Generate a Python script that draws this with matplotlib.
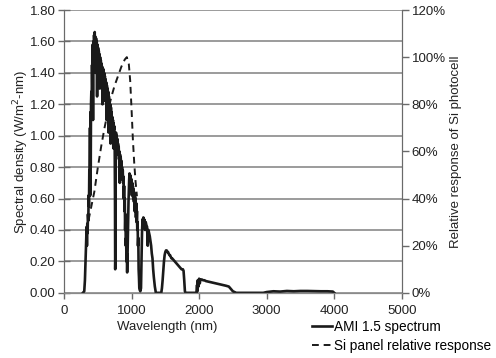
import numpy as np
import matplotlib.pyplot as plt
from matplotlib.ticker import FuncFormatter, MultipleLocator

plt.rcParams['font.family'] = ['Liberation Sans', 'DejaVu Sans']
plt.rcParams['font.size'] = 9

# AM1.5 spectrum (nm, W/m2-nm), 14 points per row
wl_spec = [280, 300, 310, 320, 330, 335, 340, 345, 350, 355, 360, 365, 370, 375,
           380, 385, 388, 392, 396, 400, 405, 410, 415, 420, 425, 430, 435, 440,
           445, 450, 455, 460, 465, 470, 475, 480, 485, 490, 495, 500, 505, 510,
           515, 520, 525, 530, 535, 540, 545, 550, 555, 560, 565, 570, 575, 580,
           585, 590, 595, 600, 605, 610, 615, 620, 625, 630, 635, 640, 645, 650,
           655, 660, 665, 670, 675, 680, 685, 690, 695, 700, 705, 710, 715, 720,
           725, 730, 735, 740, 745, 750, 755, 758, 762, 766, 770, 775, 780, 785,
           790, 795, 800, 805, 810, 815, 820, 825, 830, 835, 840, 845, 850, 855,
           860, 865, 870, 875, 880, 885, 890, 895, 900, 905, 910, 915, 920, 925,
           930, 935, 940, 945, 950, 955, 960, 965, 970, 975, 980, 985, 990, 995,
           1000, 1005, 1010, 1015, 1020, 1025, 1030, 1035, 1040, 1045, 1050, 1055, 1060, 1065,
           1070, 1075, 1080, 1085, 1090, 1095, 1100, 1105, 1110, 1115, 1120, 1130, 1140, 1145,
           1150, 1155, 1160, 1165, 1170, 1175, 1180, 1185, 1190, 1195, 1200, 1210, 1220, 1230,
           1240, 1250, 1260, 1270, 1280, 1290, 1300, 1310, 1320, 1330, 1345, 1360, 1440, 1450,
           1460, 1470, 1480, 1490, 1500, 1510, 1520, 1530, 1540, 1550, 1560, 1570, 1580, 1590,
           1600, 1620, 1640, 1660, 1680, 1700, 1720, 1740, 1760, 1770, 1780, 1790, 1800, 1960,
           1970, 1975, 1980, 1990, 2000, 2010, 2020, 2040, 2060, 2080, 2100, 2150, 2200, 2250,
           2300, 2350, 2400, 2440, 2460, 2480, 2500, 2550, 2800, 2950, 3000, 3100, 3200, 3300,
           3400, 3500, 3600, 3700, 3800, 3900, 3980, 4000]
spec = [0.00, 0.01, 0.08, 0.22, 0.36, 0.42, 0.30, 0.44, 0.38, 0.50, 0.46, 0.62, 0.55, 0.78,
        0.70, 1.05, 0.62, 1.15, 0.80, 1.20, 1.28, 1.22, 1.45, 1.30, 1.58, 1.10, 1.60, 1.48,
        1.64, 1.58, 1.66, 1.52, 1.63, 1.40, 1.62, 1.55, 1.60, 1.25, 1.58, 1.50, 1.56, 1.38,
        1.54, 1.45, 1.52, 1.30, 1.50, 1.42, 1.48, 1.35, 1.46, 1.40, 1.44, 1.20, 1.43, 1.35,
        1.42, 1.28, 1.40, 1.32, 1.38, 1.22, 1.36, 1.30, 1.34, 1.10, 1.32, 1.26, 1.30, 1.20,
        1.28, 1.02, 1.25, 1.18, 1.22, 1.12, 1.20, 0.95, 1.18, 1.10, 1.15, 0.98, 1.12, 1.05,
        1.10, 0.92, 1.08, 1.04, 1.06, 1.00, 0.60, 0.15, 0.25, 0.80, 1.02, 0.95, 1.00, 0.90,
        0.98, 0.92, 0.95, 0.88, 0.93, 0.85, 0.90, 0.70, 0.88, 0.82, 0.86, 0.80, 0.84, 0.78,
        0.80, 0.72, 0.78, 0.70, 0.74, 0.60, 0.68, 0.52, 0.60, 0.40, 0.50, 0.30, 0.35, 0.20,
        0.25, 0.13, 0.22, 0.35, 0.45, 0.58, 0.65, 0.72, 0.76, 0.70, 0.75, 0.66, 0.73, 0.68,
        0.72, 0.62, 0.70, 0.64, 0.68, 0.60, 0.66, 0.58, 0.64, 0.52, 0.62, 0.55, 0.60, 0.48,
        0.57, 0.45, 0.52, 0.40, 0.45, 0.30, 0.35, 0.15, 0.10, 0.03, 0.02, 0.01, 0.03, 0.15,
        0.30, 0.38, 0.44, 0.47, 0.42, 0.48, 0.44, 0.47, 0.43, 0.46, 0.40, 0.45, 0.43, 0.42,
        0.30, 0.40, 0.38, 0.36, 0.33, 0.30, 0.25, 0.22, 0.15, 0.10, 0.04, 0.00, 0.00, 0.03,
        0.08, 0.14, 0.20, 0.24, 0.26, 0.27, 0.27, 0.26, 0.26, 0.25, 0.24, 0.24, 0.23, 0.22,
        0.22, 0.21, 0.20, 0.19, 0.18, 0.17, 0.16, 0.15, 0.15, 0.14, 0.08, 0.01, 0.00, 0.00,
        0.05, 0.01, 0.08, 0.04, 0.09, 0.06, 0.085, 0.085, 0.08, 0.08, 0.075, 0.07, 0.065, 0.06,
        0.055, 0.05, 0.045, 0.04, 0.03, 0.02, 0.01, 0.00, 0.00, 0.00, 0.005, 0.01, 0.008, 0.012,
        0.01, 0.012, 0.012, 0.011, 0.01, 0.01, 0.008, 0.00]

# Si panel relative response (fraction of max)
wl_si = [330, 350, 400, 450, 500, 550, 600, 650, 700, 750, 800, 850, 900, 930,
         960, 980, 1000, 1020, 1040, 1060, 1080]
si_resp = [0.26, 0.29, 0.36, 0.43, 0.53, 0.62, 0.70, 0.77, 0.83, 0.88, 0.92, 0.96, 0.99, 1.00,
           0.97, 0.90, 0.78, 0.65, 0.55, 0.47, 0.41]

fig = plt.figure(figsize=(4.96, 3.58), dpi=100)
ax = fig.add_axes([0.129, 0.182, 0.681, 0.790])
ax2 = ax.twinx()

l1, = ax.plot(wl_spec, spec, color='#1a1a1a', lw=1.9)
l2, = ax2.plot(wl_si, si_resp, color='#1a1a1a', lw=1.4, ls=(0, (3.5, 2.5)))

ax.set_xlim(0, 5000)
ax.set_ylim(0, 1.8)
ax2.set_ylim(0, 1.2)
ax.xaxis.set_major_locator(MultipleLocator(1000))
ax.yaxis.set_major_locator(MultipleLocator(0.2))
ax2.yaxis.set_major_locator(MultipleLocator(0.2))
ax.yaxis.set_major_formatter(FuncFormatter(lambda v, p: '%.2f' % v))
ax2.yaxis.set_major_formatter(FuncFormatter(lambda v, p: '%d%%' % round(v * 100)))

ax.grid(axis='y', color='#8a8a8a', lw=1.2)
ax.set_axisbelow(True)
for a in (ax, ax2):
    a.spines['top'].set_visible(False)
    a.spines['bottom'].set_color('#8a8a8a')
    a.spines['left'].set_color('#6a6a6a')
    a.spines['right'].set_color('#6a6a6a')
    a.tick_params(colors='#6a6a6a', labelcolor='#222222', length=4, width=1, labelsize=9.5)
ax.tick_params(axis='y', direction='inout', length=8, pad=2)
ax.tick_params(axis='x', pad=5)
ax2.tick_params(axis='y', length=5, pad=2)

ax.set_ylabel('Spectral density (W/m$^2$-nm)', fontsize=9.5, color='#222222', labelpad=-1)
ax2.set_ylabel('Relative response of Si photocell', fontsize=9.5, color='#222222', labelpad=3)
fig.text(0.337, 0.086, 'Wavelength (nm)', ha='center', va='center', fontsize=9.5, color='#222222')

fig.legend([l1, l2], ['AMI 1.5 spectrum', 'Si panel relative response'],
           loc='upper left', bbox_to_anchor=(0.63, 0.106), frameon=False,
           fontsize=9.8, handlelength=1.4, handletextpad=0.15, labelspacing=0.35,
           borderaxespad=0, borderpad=0)

fig.savefig('out.png', dpi=100)
